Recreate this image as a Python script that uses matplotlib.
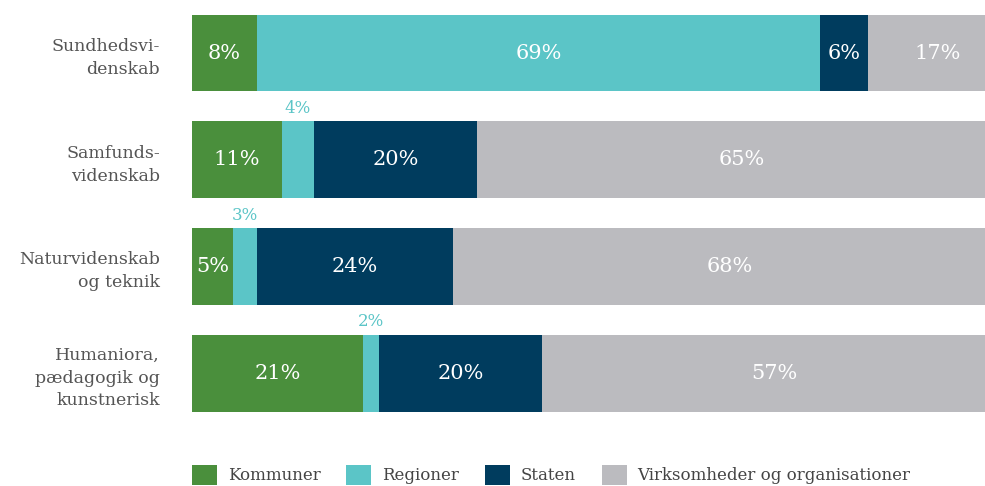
import matplotlib
matplotlib.use('Agg')
import matplotlib.pyplot as plt
from matplotlib.patches import Patch
import numpy as np

plt.rcParams['font.family'] = ['DejaVu Serif']

categories = ['Sundhedsvi-\ndenskab', 'Samfunds-\nvidenskab', 'Naturvidenskab\nog teknik',
              'Humaniora,\npædagogik og\nkunstnerisk']
series = ['Kommuner', 'Regioner', 'Staten', 'Virksomheder og organisationer']
values = {
    'Kommuner': [8, 11, 5, 21],
    'Regioner': [69, 4, 3, 2],
    'Staten': [6, 20, 24, 20],
    'Virksomheder og organisationer': [17, 65, 68, 57],
}
colors = ['#4a8f3c', '#5bc5c7', '#003c5e', '#bbbbbf']
small_limit = 5  # below this the label goes above the bar

W, H = 985, 486
fig = plt.figure(figsize=(W / 100, H / 100), dpi=100)
# axes run past the right edge, the reference is cropped there
ax = fig.add_axes([192 / W, (H - 440) / H, 815 / W, 440 / H])

y = np.arange(len(categories))
left = np.zeros(len(categories))
for s, c in zip(series, colors):
    v = np.array(values[s], dtype=float)
    ax.barh(y, v, left=left, height=0.72, color=c, linewidth=0)
    for i, val in enumerate(v):
        cx = left[i] + val / 2
        if val < small_limit and s == 'Regioner':
            ax.text(cx, y[i] - 0.36 - 0.04, f'{int(val)}%', ha='center', va='bottom',
                    color=c, fontsize=12)
        else:
            ax.text(cx, y[i], f'{int(val)}%', ha='center', va='center',
                    color='white', fontsize=15)
    left += v

ax.set_xlim(0, 100)
ax.set_ylim(3.627, -0.497)
ax.set_yticks(y)
ax.set_yticklabels(categories, fontsize=12.5, color='#555555', linespacing=1.45)
ax.tick_params(axis='y', length=0, pad=23)
ax.set_xticks([])
for sp in ax.spines.values():
    sp.set_visible(False)

handles = [Patch(facecolor=c, label=s) for s, c in zip(series, colors)]
fig.legend(handles=handles, loc='center left', bbox_to_anchor=(192 / W, 11 / H), ncol=4,
           frameon=False, fontsize=12, handlelength=1.5, handleheight=1.55,
           columnspacing=1.55, handletextpad=0.65, labelcolor='#444444',
           borderpad=0, borderaxespad=0)

fig.savefig('out.png', dpi=100)
